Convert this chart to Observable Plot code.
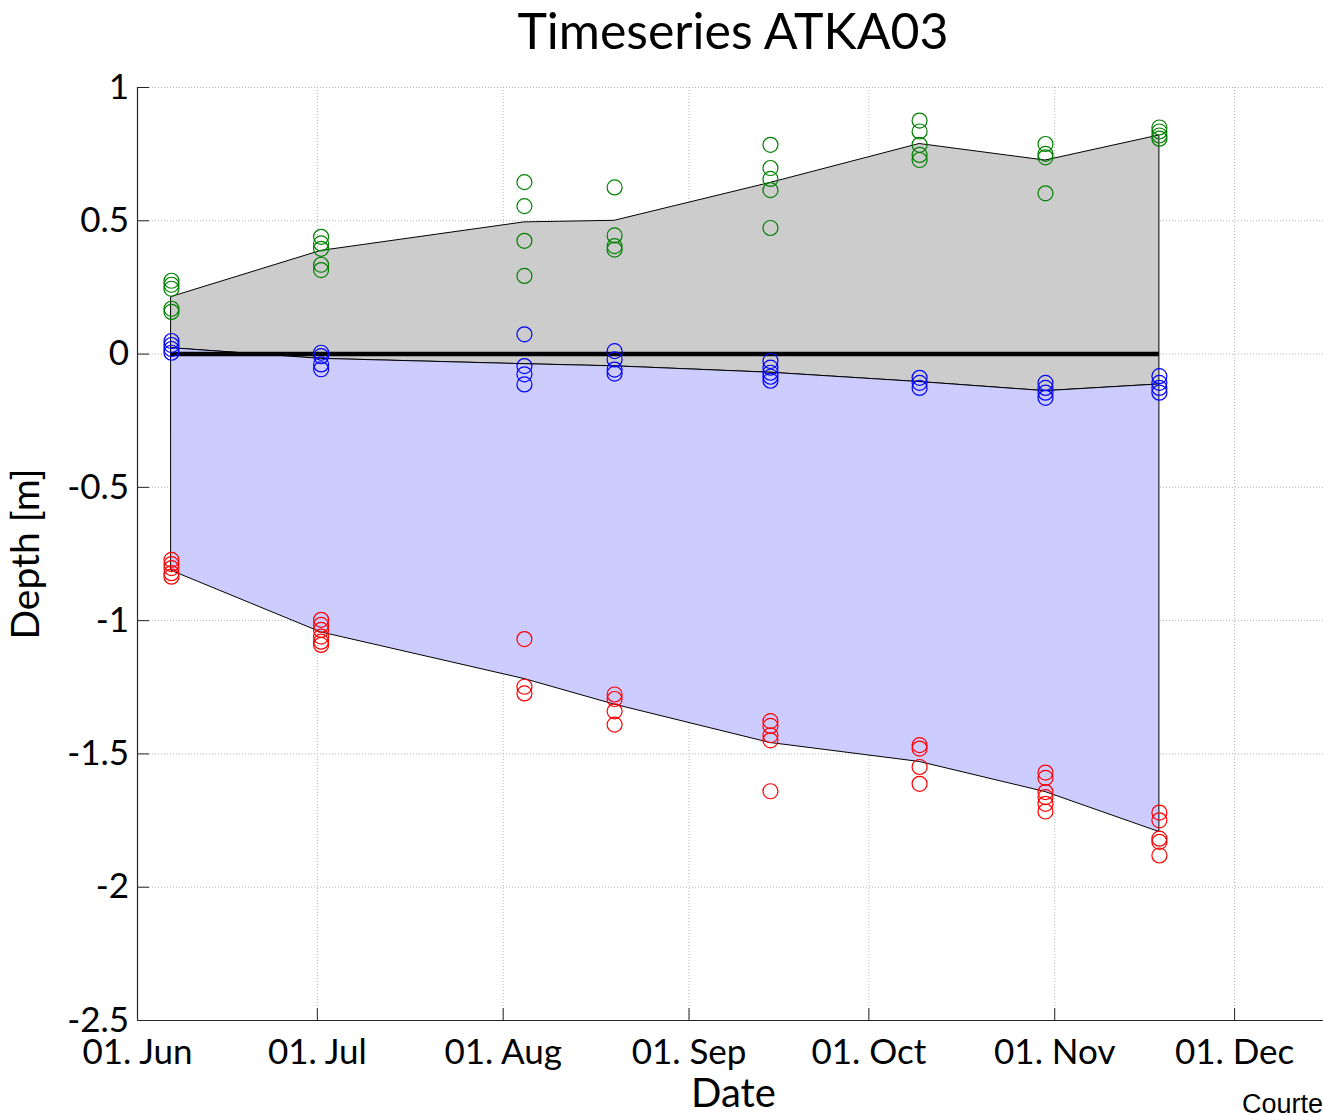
<!DOCTYPE html>
<html>
<head>
<meta charset="utf-8">
<script src="https://cdn.jsdelivr.net/npm/d3@7"></script>
<script src="https://cdn.jsdelivr.net/npm/@observablehq/plot@0.6"></script>
<style>
  html, body { margin: 0; padding: 0; background: #fff; overflow: hidden; }
  #fig { position: relative; width: 1323px; height: 1115px; overflow: hidden; background: #fff; }
  #title { box-sizing: border-box; height: 66px; width: 1323px; padding-top: 0; padding-left: 143px;
           text-align: center; font: 50px/normal Lato, sans-serif; color: #000; white-space: nowrap; }
  #credit { position: absolute; left: 1242px; top: 1091px; font: 27px/27px "Liberation Sans", Arial, sans-serif;
            color: #000; white-space: nowrap; }
  #chart svg { display: block; max-width: none !important; }
</style>
</head>
<body>
<div id="fig">
  <div id="title">Timeseries ATKA03</div>
  <div id="chart"></div>
  <div id="credit">Courtesy</div>
</div>
<script>
// ---- data ----
const surveyDates = [
  "2013-06-06T16:00Z", "2013-07-01T15:00Z", "2013-08-04T13:00Z", "2013-08-19T14:00Z",
  "2013-09-14T14:00Z", "2013-10-09T11:00Z", "2013-10-30T11:00Z", "2013-11-18T11:00Z"
];

// green circles (upper surface measurements)
const greenDepths = [
  [0.275, 0.26, 0.245, 0.17, 0.158],
  [0.44, 0.415, 0.395, 0.335, 0.315],
  [0.645, 0.555, 0.425, 0.293],
  [0.625, 0.445, 0.405, 0.392],
  [0.785, 0.698, 0.657, 0.615, 0.473],
  [0.876, 0.835, 0.785, 0.747, 0.728],
  [0.788, 0.751, 0.738, 0.603],
  [0.85, 0.835, 0.82, 0.808]
];

// blue circles (near zero)
const blueDepths = [
  [0.049, 0.034, 0.019, 0.005],
  [0.005, -0.008, -0.039, -0.057],
  [0.074, -0.045, -0.076, -0.114],
  [0.011, -0.02, -0.058, -0.073],
  [-0.026, -0.051, -0.07, -0.085, -0.10],
  [-0.089, -0.108, -0.127],
  [-0.108, -0.127, -0.145, -0.164],
  [-0.083, -0.108, -0.127, -0.145]
];

// red circles (bottom)
const redDepths = [
  [-0.772, -0.788, -0.803, -0.822, -0.835],
  [-0.997, -1.016, -1.035, -1.06, -1.079, -1.091],
  [-1.069, -1.248, -1.273],
  [-1.277, -1.294, -1.34, -1.39],
  [-1.377, -1.395, -1.43, -1.449, -1.64],
  [-1.467, -1.48, -1.549, -1.612],
  [-1.57, -1.59, -1.643, -1.662, -1.687, -1.716],
  [-1.72, -1.749, -1.818, -1.83, -1.881]
];

// outline lines
const upperLine  = [0.214, 0.387, 0.494, 0.50, 0.642, 0.788, 0.726, 0.82];
const middleLine = [0.022, -0.018, -0.038, -0.046, -0.07, -0.105, -0.139, -0.114];
const lowerLine  = [-0.813, -1.044, -1.219, -1.315, -1.459, -1.53, -1.643, -1.793];

// axes
const xDomain = ["2013-06-01T00:00Z", "2013-12-16T20:00Z"];
const xTicks = ["2013-06-01T00:00Z", "2013-07-01T00:00Z", "2013-08-01T00:00Z", "2013-09-01T00:00Z",
                "2013-10-01T00:00Z", "2013-11-01T00:00Z", "2013-12-01T00:00Z"];
const xTickLabels = ["01. Jun", "01. Jul", "01. Aug", "01. Sep", "01. Oct", "01. Nov", "01. Dec"];
const yDomain = [-2.5, 1];
const yTicks = [1, 0.5, 0, -0.5, -1, -1.5, -2, -2.5];
const yTickLabels = ["1", "0.5", "0", "-0.5", "-1", "-1.5", "-2", "-2.5"];
const seriesNames = ["green", "blue", "red"];
const seriesColors = ["#008000", "#0000ff", "#ff0000"];

// ---- build tables ----
const dates = surveyDates.map(s => new Date(s));
const xTickDates = xTicks.map(s => new Date(s));
const xDom = xDomain.map(s => new Date(s));

const points = [];
[[seriesNames[0], greenDepths], [seriesNames[1], blueDepths], [seriesNames[2], redDepths]]
  .forEach(([series, arr]) => arr.forEach((vals, i) =>
    vals.forEach(v => points.push({date: dates[i], depth: v, series}))));

const lines = dates.map((d, i) => ({date: d, top: upperLine[i], mid: middleLine[i], bot: lowerLine[i]}));

const axisColor = "#262626";
const gridStyle = {stroke: "#b4b4b4", strokeOpacity: 1, strokeWidth: 1, strokeDasharray: "1,2"};

const chart = Plot.plot({
  width: 1329,
  height: 1049,
  marginTop: 21,
  marginBottom: 95,
  marginLeft: 137,
  marginRight: 0,
  style: {fontFamily: "Lato, sans-serif", fontSize: "35px", color: "#000", background: "#fff",
          overflow: "visible", maxWidth: "none"},
  x: {type: "utc", domain: xDom},
  y: {domain: yDomain},
  color: {domain: seriesNames, range: seriesColors},
  marks: [
    Plot.gridX(xTickDates, gridStyle),
    Plot.gridY(yTicks, gridStyle),
    Plot.areaY(lines, {x: "date", y1: "mid", y2: "top", fill: "#cccccc", stroke: "#000", strokeWidth: 1}),
    Plot.areaY(lines, {x: "date", y1: "bot", y2: "mid", fill: "#ccccff", stroke: "#000", strokeWidth: 1}),
    Plot.ruleY([0], {x1: dates[0], x2: dates[dates.length - 1], stroke: "#000", strokeWidth: 4.5}),
    Plot.dot(points, {x: "date", y: "depth", stroke: "series", r: 7.5, strokeWidth: 1.2, fill: "none"}),
    Plot.ruleX([xDom[0]], {stroke: axisColor, strokeWidth: 1.2}),
    Plot.ruleY([yDomain[0]], {stroke: axisColor, strokeWidth: 1.2}),
    Plot.axisX({ticks: xTickDates, tickFormat: (d, i) => xTickLabels[i], tickSize: -12, tickPadding: 31,
                fontSize: 35, stroke: axisColor, label: null}),
    Plot.axisY({ticks: yTicks, tickFormat: (d, i) => yTickLabels[i], tickSize: -12, tickPadding: 20.5,
                fontSize: 35, stroke: axisColor, label: null}),
    Plot.text(["Date"], {text: d => d, frameAnchor: "bottom", dy: 86, lineAnchor: "bottom", fontSize: 40}),
    Plot.text(["Depth [m]"], {text: d => d, frameAnchor: "left", textAnchor: "middle", rotate: -90, dx: -99,
                              lineAnchor: "bottom", fontSize: 39})
  ]
});
document.getElementById("chart").appendChild(chart);
</script>
</body>
</html>
